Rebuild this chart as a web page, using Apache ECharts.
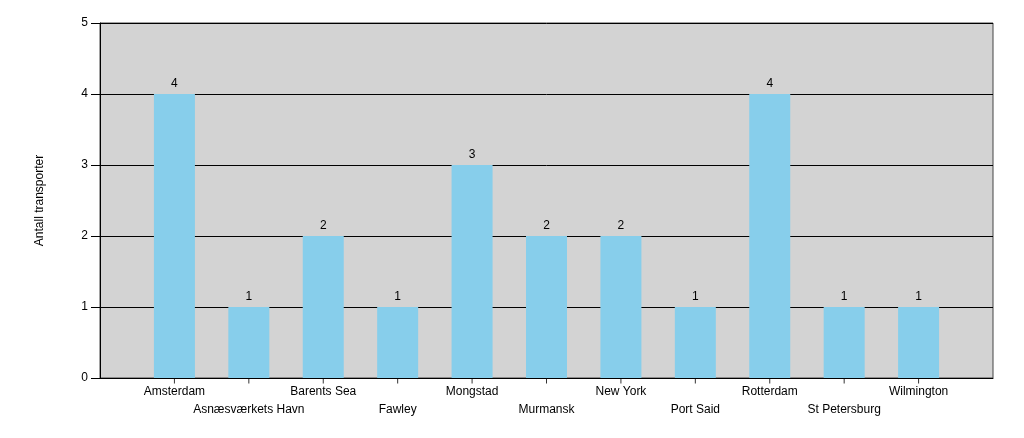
<!DOCTYPE html>
<html>
<head>
<meta charset="utf-8">
<script src="https://cdn.jsdelivr.net/npm/echarts@6/dist/echarts.min.js"></script>
<style>html,body{margin:0;padding:0;background:#fff}#c{width:1024px;height:438px}</style>
</head>
<body>
<div id="c"></div>
<script>
const categories = ['Amsterdam','Asnæsværkets Havn','Barents Sea','Fawley','Mongstad','Murmansk','New York','Port Said','Rotterdam','St Petersburg','Wilmington'];
const values = [4,1,2,1,3,2,2,1,4,1,1];
const yTicks = [0,1,2,3,4,5];

// pad with empty slots at both ends so bars sit one step in from the frame
const axisCats = [''].concat(categories, ['']);
const axisVals = ['-'].concat(values, ['-']);
const tickVals = ['-'].concat(categories.map(function(){return 0;}), ['-']);

const chart = echarts.init(document.getElementById('c'), null, {renderer:'canvas'});
chart.setOption({
  animation:false,
  textStyle:{fontFamily:'Liberation Sans, Arial, sans-serif'},
  grid:{left:100,right:31,top:23,bottom:60,show:true,backgroundColor:'#d3d3d3',borderColor:'#444',borderWidth:1},
  xAxis:{
    type:'category',data:axisCats,boundaryGap:false,
    axisLine:{show:true,lineStyle:{color:'#000'}},
    axisTick:{show:false},
    splitLine:{show:false},
    axisLabel:{
      interval:0,hideOverlap:false,
      color:'#000',fontSize:12,lineHeight:18,margin:5,
      formatter:function(v){if(!v)return '';const i=categories.indexOf(v);return i%2===0?v:'\n'+v;}
    }
  },
  yAxis:{
    type:'value',min:0,max:5,interval:1,
    name:'Antall transporter',nameLocation:'middle',nameGap:54,nameRotate:90,
    nameTextStyle:{color:'#000',fontSize:12},
    axisLine:{show:true,lineStyle:{color:'#000'}},
    axisTick:{show:true,length:9,lineStyle:{color:'#000'}},
    axisLabel:{color:'#000',fontSize:12,margin:12,formatter:function(v){return yTicks.includes(v)?String(v):'';}},
    splitLine:{show:true,lineStyle:{color:'#000',width:1}}
  },
  series:[{
    type:'bar',
    data:axisVals,
    barWidth:41,
    itemStyle:{color:'#87ceeb'},
    label:{show:true,position:'top',color:'#000',fontSize:12,distance:4}
  },{
    // category tick marks below the x axis
    type:'scatter',
    data:tickVals,
    symbol:'rect',symbolSize:[1,5],symbolOffset:[0,3],
    itemStyle:{color:'#000'},
    clip:false,silent:true,z:10,
    label:{show:false},
    tooltip:{show:false}
  }]
});
</script>
</body>
</html>
